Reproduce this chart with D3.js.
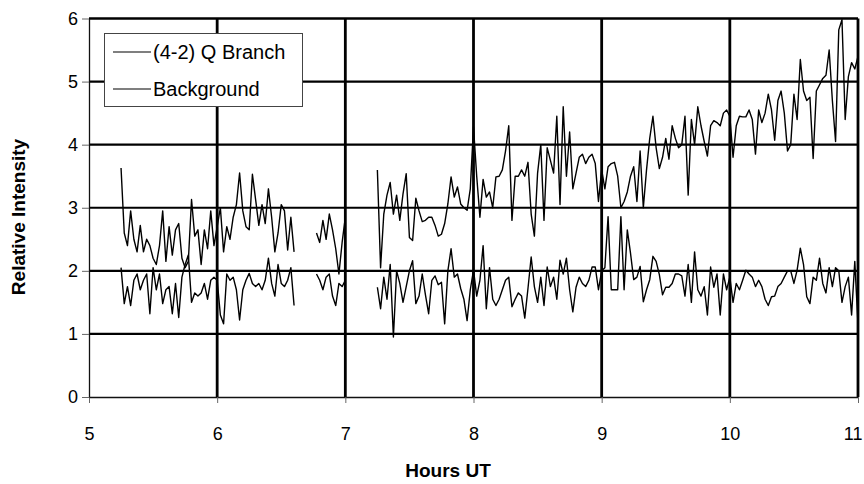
<!DOCTYPE html>
<html>
<head>
<meta charset="utf-8">
<script src="https://cdn.jsdelivr.net/npm/d3@7"></script>
<style>
  body { margin: 0; background: #fff; }
  text { font-family: "Liberation Sans", Arial, sans-serif; fill: #000; }
</style>
</head>
<body>
<script>
const w = 864;
const h = 484;

// sampling: one reading every 0.025 h, three runs with gaps between them
const step = 0.025;
const runStarts = [5.25, 6.775, 7.25];

// (4-2) Q Branch
const qBranchA = [3.63, 2.6, 2.4, 2.95, 2.5, 2.3, 2.72, 2.3, 2.5, 2.4, 2.2, 2.1, 2.4, 2.95, 2.15, 2.7, 2.25, 2.65, 2.75, 2.2,
  2.05, 2.15, 3.13, 2.55, 2.65, 2.1, 2.65, 2.35, 2.95, 2.4, 2.7, 3.0, 2.3, 2.7, 2.5, 2.85, 3.05, 3.55, 2.95, 2.7,
  2.65, 3.53, 3.13, 2.72, 3.05, 2.75, 3.3, 2.85, 2.3, 2.6, 3.05, 2.95, 2.33, 2.85, 2.3];
const qBranchB = [2.6, 2.45, 2.8, 2.5, 2.9, 2.65, 2.35, 1.95, 2.45, 2.85];
const qBranchC = [3.6, 2.05, 2.9, 3.2, 3.4, 2.9, 3.2, 2.8, 3.22, 3.54, 2.53, 2.48, 3.15, 2.95, 2.78, 2.8, 2.85, 2.85, 2.72, 2.55,
  2.58, 2.75, 3.06, 3.49, 3.17, 3.33, 3.06, 3.0, 2.96, 3.3, 4.28, 3.5, 2.85, 3.45, 3.17, 3.25, 3.0, 3.49,
  3.5, 3.6, 3.9, 4.3, 2.8, 3.5, 3.5, 3.6, 3.5, 3.72, 2.9, 2.55, 3.55, 4.0, 2.8, 3.95, 3.75, 3.55, 4.45, 3.05,
  4.6, 3.5, 4.2, 3.3, 3.55, 3.8, 3.85, 3.7, 3.8, 3.85, 3.7, 3.1, 3.6, 3.3, 3.65, 3.7, 3.72, 3.5, 3.0,
  3.1, 3.25, 3.5, 3.65, 3.1, 3.9, 3.0, 3.6, 4.1, 4.45, 3.95,
  3.62, 3.8, 4.1, 3.77, 4.3, 4.1, 3.95, 4.0, 4.45, 3.2, 4.4, 4.0, 4.6, 4.3, 4.05, 3.82, 4.3, 4.38, 4.35, 4.3,
  4.5, 4.55, 4.45, 3.8, 4.3,
  4.45, 4.44, 4.44, 4.55, 4.4, 3.85, 4.55, 4.35, 4.5, 4.8, 4.55, 4.07, 4.7, 4.85, 4.5, 3.9, 4.0, 4.8, 4.4, 5.35,
  4.85, 4.7, 4.75, 3.78, 4.85, 4.95, 5.05, 5.1, 5.5, 4.7, 4.05, 5.82, 5.98, 4.4, 5.08, 5.3, 5.2, 5.4];

// Background
const backgroundA = [2.05, 1.48, 1.75, 1.45, 1.85, 1.95, 1.7, 1.85, 1.95, 1.32, 2.05, 1.7, 1.95, 1.48, 1.7, 1.75, 1.32, 1.8, 1.26, 1.9,
  2.1, 2.25, 1.5, 1.65, 1.6, 1.65, 1.8, 1.55, 1.85, 1.9, 1.85, 1.3, 1.16, 1.95, 1.85, 1.9, 1.7, 1.22, 1.7, 1.85,
  1.96, 1.8, 1.75, 1.8, 1.7, 1.85, 2.2, 1.8, 1.6, 2.1, 1.8, 1.75, 1.85, 2.05, 1.45];
const backgroundB = [1.95, 1.85, 1.7, 1.9, 1.95, 1.6, 1.45, 1.8, 1.75, 1.85];
const backgroundC = [1.74, 1.4, 1.9, 1.55, 2.1, 0.95, 2.0, 1.8, 1.5, 1.75, 2.0, 2.16, 1.48, 1.6, 1.95, 1.62, 1.32, 1.85, 1.92, 1.78,
  1.82, 1.16, 2.0, 2.35, 1.9, 1.95, 1.72, 1.55, 1.21, 1.7, 2.01, 1.6, 1.85, 2.4, 1.4, 2.05, 1.55, 1.45,
  1.55, 1.7, 1.85, 1.9, 1.43, 1.55, 1.65, 1.6, 1.25, 1.72, 2.22, 1.75, 1.5, 1.9, 1.45, 2.06, 1.75, 1.9, 1.55, 2.17,
  1.95, 2.2, 1.7, 1.35, 1.74, 1.9, 1.8, 1.75, 1.85, 2.06, 2.06, 1.7, 2.0, 2.05, 2.86, 1.7, 1.7, 1.7, 2.86,
  1.7, 2.65, 2.28, 1.86, 1.9, 2.07, 1.51, 1.7, 1.86, 2.23, 2.15,
  1.94, 1.62, 1.74, 1.74, 1.8, 1.95, 1.95, 1.92, 1.6, 2.1, 1.5, 2.3, 1.7, 1.6, 1.75, 1.3, 2.06, 1.74, 1.95, 1.3,
  1.95, 1.7, 1.9, 1.5, 1.8,
  1.7, 1.85, 2.01, 1.95, 1.9, 1.75, 1.85, 1.75, 1.55, 1.45, 1.59, 1.6, 1.75, 1.8, 1.9, 2.0, 2.0, 1.8, 2.01, 2.36,
  2.1, 1.59, 1.48, 1.9, 1.85, 2.2, 1.8, 1.65, 2.05, 1.75, 2.05, 2.0, 1.5, 1.75, 1.9, 1.3, 2.15, 1.15];

const xTicks = [5, 6, 7, 8, 9, 10, 11];
const yTicks = [0, 1, 2, 3, 4, 5, 6];
const seriesNames = ['(4-2) Q Branch', 'Background'];

const svg = d3.select('body')
  .append('svg')
  .attr('width', w)
  .attr('height', h);

const x = d3.scaleLinear().domain([5, 11]).range([89, 858]);
const y = d3.scaleLinear().domain([0, 6]).range([397, 18.5]);

// grid
svg.append('g')
  .selectAll('line')
  .data(yTicks.slice(1))
  .enter()
  .append('line')
  .attr('x1', x(5))
  .attr('x2', x(11))
  .attr('y1', d => y(d))
  .attr('y2', d => y(d))
  .attr('stroke', '#000')
  .attr('stroke-width', d => d === 6 ? 2.5 : 2.2);

svg.append('g')
  .selectAll('line')
  .data(xTicks.slice(1))
  .enter()
  .append('line')
  .attr('x1', d => x(d))
  .attr('x2', d => x(d))
  .attr('y1', y(6))
  .attr('y2', y(0))
  .attr('stroke', '#000')
  .attr('stroke-width', 2.8);

// axes
const xAxis = svg.append('g')
  .attr('transform', `translate(0,${y(0)})`)
  .call(d3.axisBottom(x).tickValues(xTicks).tickFormat(d3.format('d'))
    .tickSize(6).tickPadding(24).tickSizeOuter(0));
const yAxis = svg.append('g')
  .attr('transform', `translate(${x(5)},0)`)
  .call(d3.axisLeft(y).tickValues(yTicks).tickFormat(d3.format('d'))
    .tickSize(7).tickPadding(4).tickSizeOuter(0));

[xAxis, yAxis].forEach(g => {
  g.select('.domain').attr('stroke', '#111').attr('stroke-width', 1.3);
  g.selectAll('.tick line').attr('stroke', '#666').attr('stroke-width', 1);
  g.selectAll('.tick text').style('font-size', '18px').attr('fill', '#000');
});
// last x label sits on the right edge
xAxis.selectAll('.tick text').filter(d => d === 11).attr('dx', '-0.3em');

// series
const runs = s => s.map((vals, k) => vals.map((v, i) => [runStarts[k] + i * step, v]));
const qRuns = runs([qBranchA, qBranchB, qBranchC]);
const bgRuns = runs([backgroundA, backgroundB, backgroundC]);

const line = d3.line()
  .x(d => x(d[0]))
  .y(d => y(d[1]));

svg.append('g')
  .selectAll('path')
  .data(bgRuns.concat(qRuns))
  .enter()
  .append('path')
  .attr('d', line)
  .attr('fill', 'none')
  .attr('stroke', '#000')
  .attr('stroke-width', 1.4)
  .attr('stroke-linejoin', 'round');

// legend
const legend = svg.append('g');
legend.append('rect')
  .attr('x', 104.5)
  .attr('y', 33.5)
  .attr('width', 198)
  .attr('height', 73)
  .attr('fill', '#fff')
  .attr('stroke', '#444')
  .attr('stroke-width', 1);

const rows = legend.selectAll('g.row')
  .data(seriesNames)
  .enter()
  .append('g')
  .attr('transform', (d, i) => `translate(0,${52 + i * 37})`);
rows.append('line')
  .attr('x1', 113)
  .attr('x2', 151)
  .attr('stroke', '#000')
  .attr('stroke-width', 1.2);
rows.append('text')
  .text(d => d)
  .attr('x', 153)
  .attr('dy', '0.35em')
  .style('font-size', '20px');

// axis titles
svg.append('text')
  .text('Hours UT')
  .attr('x', 448)
  .attr('y', 477)
  .attr('text-anchor', 'middle')
  .style('font-size', '19px')
  .style('font-weight', 'bold');

svg.append('text')
  .text('Relative Intensity')
  .attr('transform', 'translate(25,217) rotate(-90)')
  .attr('text-anchor', 'middle')
  .style('font-size', '19px')
  .style('font-weight', 'bold');
</script>
</body>
</html>
